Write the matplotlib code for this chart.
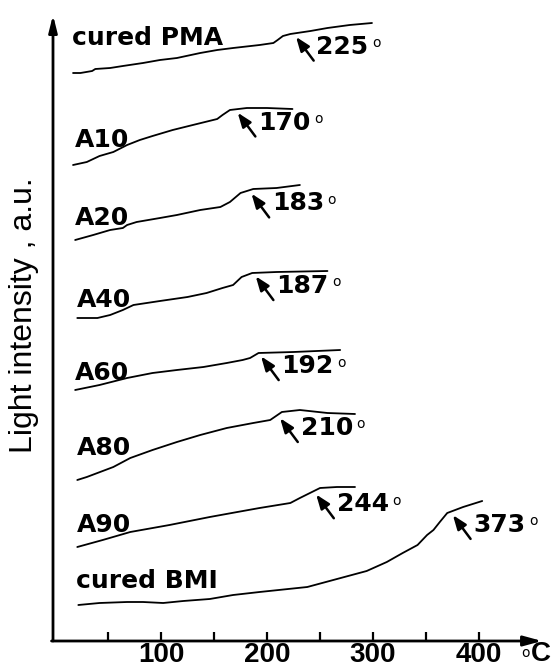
import numpy as np
import matplotlib
matplotlib.use("Agg")
import matplotlib.pyplot as plt

# Temperature (°C) and light intensity (a.u.; traces are stacked with vertical offsets)
pma_t = [17, 24, 35, 38, 52, 64, 83, 99, 115, 137, 153, 168, 193, 206, 210, 215, 222, 241, 257, 278, 299]
pma_i = [568, 568, 570, 572, 573, 575, 578, 581, 583, 588, 591, 593, 596, 598, 601, 605, 607, 610, 613, 616, 618]

a10_t = [17, 30, 42, 55, 68, 80, 92, 111, 130, 153, 158, 165, 181, 200, 224]
a10_i = [476, 479, 485, 489, 496, 501, 505, 511, 516, 522, 526, 531, 533, 533, 532]

a20_t = [19, 36, 52, 64, 68, 77, 99, 115, 137, 156, 165, 175, 187, 209, 231]
a20_i = [401, 406, 411, 413, 416, 419, 423, 426, 431, 434, 439, 448, 452, 453, 456]

a40_t = [21, 40, 52, 64, 74, 99, 125, 143, 158, 168, 176, 186, 209, 257]
a40_i = [323, 323, 326, 331, 336, 340, 344, 348, 353, 356, 364, 368, 369, 370]

a60_t = [19, 42, 68, 92, 115, 140, 162, 177, 184, 192, 225, 269]
a60_i = [251, 256, 263, 268, 271, 274, 278, 281, 283, 288, 289, 291]

a80_t = [21, 30, 40, 55, 71, 92, 115, 137, 162, 187, 203, 214, 231, 257, 283]
a80_i = [161, 164, 168, 174, 183, 191, 199, 206, 213, 218, 221, 229, 231, 228, 227]

a90_t = [21, 45, 71, 108, 146, 172, 193, 222, 231, 250, 266, 283]
a90_i = [94, 101, 109, 116, 124, 129, 133, 138, 143, 153, 154, 154]

bmi_t = [22, 42, 68, 83, 102, 121, 146, 168, 193, 238, 266, 294, 313, 328, 342, 351, 357, 363, 370, 385, 403]
bmi_i = [36, 38, 39, 39, 38, 40, 42, 46, 49, 54, 62, 70, 79, 88, 96, 106, 111, 119, 128, 134, 140]

names = ["cured PMA", "A10", "A20", "A40", "A60", "A80", "A90", "cured BMI"]
onsets = [225, 170, 183, 187, 192, 210, 244, 373]
x_ticks = [100, 200, 300, 400]
x_minor_ticks = [50, 150, 250, 350]

series = [(pma_t, pma_i), (a10_t, a10_i), (a20_t, a20_i), (a40_t, a40_i),
          (a60_t, a60_i), (a80_t, a80_i), (a90_t, a90_i), (bmi_t, bmi_i)]

# where each sample name sits (x in °C, baseline in a.u.)
name_pos = [(16, 596), (19, 494), (19, 416), (21, 334), (19, 261), (21, 186), (21, 109), (20, 53)]

fig = plt.figure(figsize=(5.54, 6.68), dpi=100)
ax = fig.add_axes([53 / 554, 27 / 668, 489 / 554, 626 / 668])
ax.set_xlim(-1.9, 459.4)
ax.set_ylim(0, 626)

for s in ax.spines.values():
    s.set_visible(False)

# axis lines with arrowheads
ax.annotate("", xy=(1, 0), xytext=(-0.003, 0), xycoords="axes fraction",
            arrowprops=dict(arrowstyle="-|>,head_length=1.1,head_width=0.3",
                            lw=2, color="k", shrinkA=0, shrinkB=0, mutation_scale=10))
ax.annotate("", xy=(0, 1), xytext=(0, 0), xycoords="axes fraction",
            arrowprops=dict(arrowstyle="-|>,head_length=1.0,head_width=0.25",
                            lw=2, color="k", shrinkA=0, shrinkB=0, mutation_scale=10))

ax.set_xticks(x_ticks)
ax.set_xticks(x_minor_ticks, minor=True)
ax.set_yticks([])
ax.tick_params(axis="x", which="both", direction="in", length=6.5, width=1.6, pad=0.5)
ax.set_xticklabels([str(v) for v in x_ticks], fontsize=20, fontweight="bold",
                   family="Liberation Sans")

for (t, i), name, (nx, ny), onset in zip(series, names, name_pos, onsets):
    ax.plot(t, i, color="k", lw=1.3, solid_capstyle="round")
    ax.text(nx, ny, name, fontsize=18, fontweight="bold", ha="left", va="baseline")
    y_on = np.interp(onset, t, i)
    ax.annotate("", xy=(onset, y_on), xytext=(14.5, -19.5), textcoords="offset points",
                arrowprops=dict(arrowstyle="-|>,head_length=0.85,head_width=0.32",
                                lw=1.8, color="k", shrinkA=0, shrinkB=3, mutation_scale=10))
    txt = ax.annotate(f"{onset}", xy=(onset, y_on), xytext=(16.5, -14.5),
                      textcoords="offset points", ha="left", va="baseline",
                      fontsize=18, fontweight="bold")
    ax.annotate("o", xy=(1, 1), xycoords=txt, xytext=(2.5, -1), textcoords="offset points",
                ha="left", va="top", fontsize=10)

# unit label of the temperature axis
fig.text(521 / 554, 1 - 657 / 668, "o", fontsize=10, ha="left", va="baseline")
fig.text(531 / 554, 1 / 668, "C", fontsize=20, fontweight="bold",
         family="Liberation Sans", ha="left", va="bottom")

fig.text(24 / 554, 1 - 315 / 668, "Light intensity , a.u.", rotation=90,
         ha="center", va="center", fontsize=23, family="Liberation Sans")

fig.savefig("out.png", dpi=100)
